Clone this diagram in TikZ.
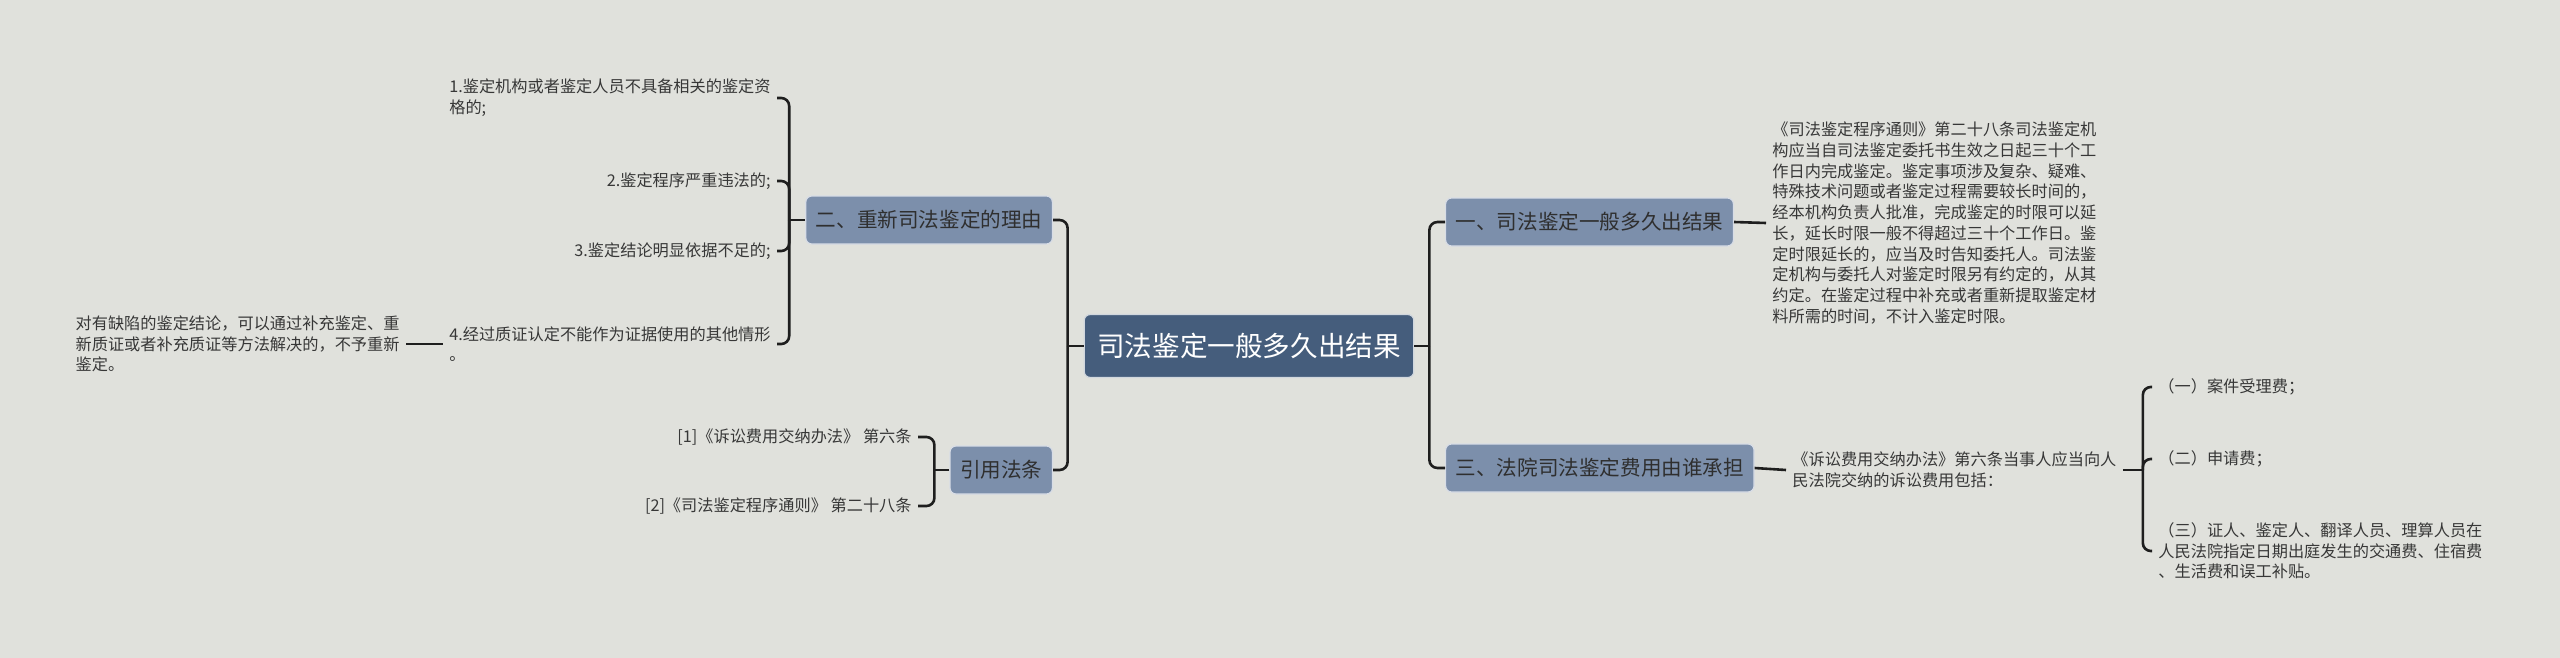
\documentclass[tikz,border=0pt]{standalone}
\usepackage{fontspec}
\newfontfamily\cjk{Noto Sans CJK SC}
\definecolor{fondo}{RGB}{224,225,220}
\definecolor{raizc}{RGB}{69,93,124}
\definecolor{ramac}{RGB}{124,143,171}
\definecolor{lineac}{RGB}{30,30,30}
\definecolor{textoc}{RGB}{55,55,55}
\tikzset{
  raiz/.style={rectangle,rounded corners=3pt,fill=raizc,draw=white!75!raizc,line width=0.6pt,
    text=white,font=\fontsize{13.8pt}{16pt}\selectfont\cjk,minimum height=31.5pt,inner xsep=6.5pt},
  rama/.style={rectangle,rounded corners=3pt,fill=ramac,draw=white!70!ramac,line width=0.6pt,
    text=textoc!85!black,font=\fontsize{10.3pt}{12pt}\selectfont\cjk,minimum height=24pt,inner xsep=5pt},
  hoja/.style={text=textoc,font=\fontsize{8.1pt}{10.35pt}\selectfont\cjk,inner sep=3pt},
  conn/.style={draw=lineac,line width=1.3pt,rounded corners=4pt}
}
\begin{document}
\begin{tikzpicture}[x=0.5pt,y=-0.5pt]
  \fill[fondo] (0,0) rectangle (2560,658);
  \useasboundingbox (0,0) rectangle (2560,658);
  % nodo central y ramas principales
  \node[raiz] (root) at (1249,346) {司法鉴定一般多久出结果};
  \node[rama,anchor=west] (sec1) at (1445,222) {一、司法鉴定一般多久出结果};
  \node[rama,anchor=west] (sec3) at (1445,468) {三、法院司法鉴定费用由谁承担};
  \node[rama,anchor=east] (sec2) at (1053,220) {二、重新司法鉴定的理由};
  \node[rama,anchor=east] (cite) at (1053,470) {引用法条};
  \draw[conn] (root.east) -- ++(15,0) coordinate (rr);
  \foreach \n in {sec1,sec3} \draw[conn] (rr) |- (\n.west);
  \draw[conn] (root.west) -- ++(-16,0) coordinate (rl);
  \foreach \n in {sec2,cite} \draw[conn] (rl) |- (\n.east);
  % lado derecho
  \node[hoja,anchor=west,align=left] (r1) at (1766,223) {《司法鉴定程序通则》第二十八条司法鉴定机\\构应当自司法鉴定委托书生效之日起三十个工\\作日内完成鉴定。鉴定事项涉及复杂、疑难、\\特殊技术问题或者鉴定过程需要较长时间的，\\经本机构负责人批准，完成鉴定的时限可以延\\长，延长时限一般不得超过三十个工作日。鉴\\定时限延长的，应当及时告知委托人。司法鉴\\定机构与委托人对鉴定时限另有约定的，从其\\约定。在鉴定过程中补充或者重新提取鉴定材\\料所需的时间，不计入鉴定时限。};
  \draw[conn] (sec1.east) -- (r1.west);
  \node[hoja,anchor=west,align=left] (fee) at (1786,470) {《诉讼费用交纳办法》第六条当事人应当向人\\民法院交纳的诉讼费用包括：};
  \draw[conn] (sec3.east) -- (fee.west);
  \node[hoja,anchor=west] (fee1) at (2152,387) {（一）案件受理费；};
  \node[hoja,anchor=west] (fee2) at (2152,459) {（二）申请费；};
  \node[hoja,anchor=west,align=left] (fee3) at (2152,551) {（三）证人、鉴定人、翻译人员、理算人员在\\人民法院指定日期出庭发生的交通费、住宿费\\、生活费和误工补贴。};
  \draw[conn] (fee.east) -- ++(20,0) coordinate (fj);
  \foreach \n in {fee1,fee2,fee3} \draw[conn] (fj) |- (\n.west);
  % lado izquierdo
  \node[hoja,anchor=east,align=left] (why1) at (777,98) {1.鉴定机构或者鉴定人员不具备相关的鉴定资\\格的;};
  \node[hoja,anchor=east] (why2) at (777,181) {2.鉴定程序严重违法的;};
  \node[hoja,anchor=east] (why3) at (777,251) {3.鉴定结论明显依据不足的;};
  \node[hoja,anchor=east,align=left] (why4) at (777,344) {4.经过质证认定不能作为证据使用的其他情形\\。};
  \draw[conn] (sec2.west) -- ++(-16,0) coordinate (wj);
  \foreach \n in {why1,why2,why3,why4} \draw[conn] (wj) |- (\n.east);
  \node[hoja,anchor=east,align=left] (fix) at (406,344) {对有缺陷的鉴定结论，可以通过补充鉴定、重\\新质证或者补充质证等方法解决的，不予重新\\鉴定。};
  \draw[conn] (why4.west) -- (fix.east);
  \node[hoja,anchor=east] (law1) at (918,437) {[1]《诉讼费用交纳办法》 第六条};
  \node[hoja,anchor=east] (law2) at (918,506) {[2]《司法鉴定程序通则》 第二十八条};
  \draw[conn] (cite.west) -- ++(-15,0) coordinate (lj);
  \foreach \n in {law1,law2} \draw[conn] (lj) |- (\n.east);
\end{tikzpicture}
\end{document}
